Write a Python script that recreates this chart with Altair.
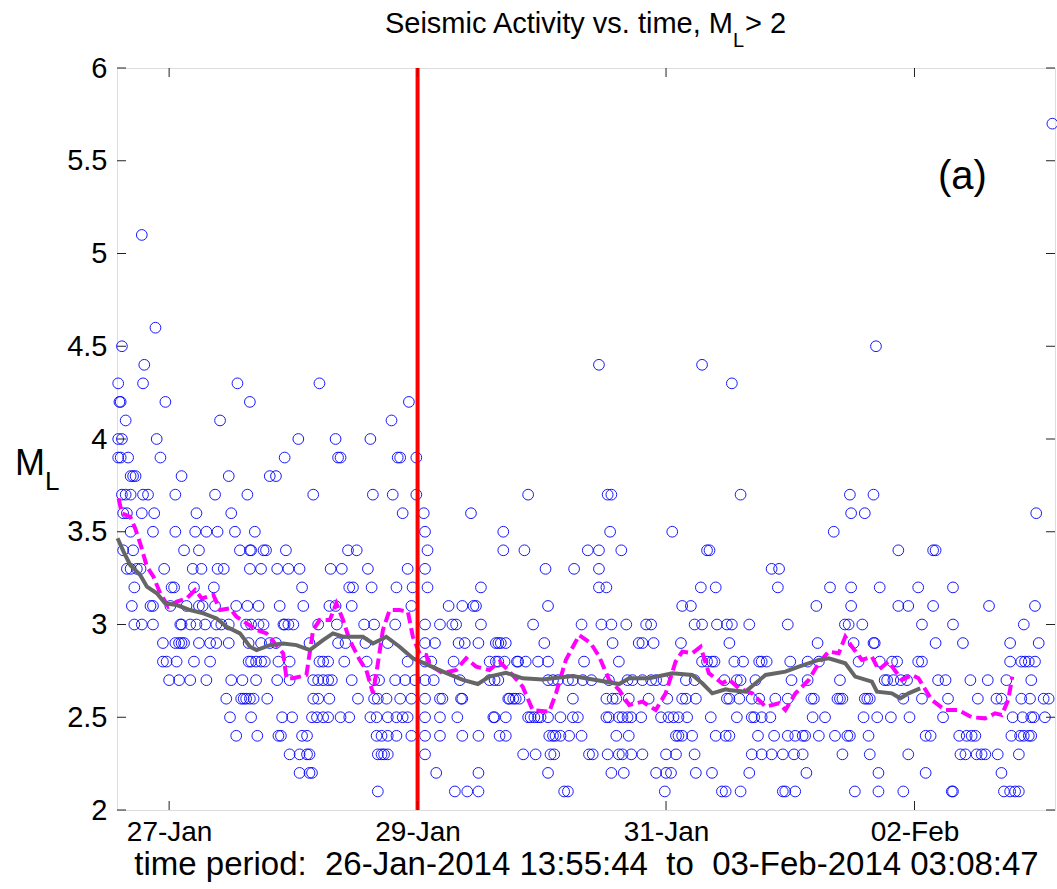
import altair as alt
import pandas as pd

FONT = "Liberation Sans"

# ---- axes (x in days since 27-Jan-2014 00:00) ----
X_START = -0.4196   # 26-Jan-2014 13:55:44
X_END = 7.1311      # 03-Feb-2014 03:08:47
x_tick_days = [0, 2, 4, 6]
x_tick_labels = ["27-Jan", "29-Jan", "31-Jan", "02-Feb"]
y_ticks = [2, 2.5, 3, 3.5, 4, 4.5, 5, 5.5, 6]
x_title = "time period:\u00a0 26-Jan-2014 13:55:44\u00a0 to\u00a0 03-Feb-2014 03:08:47"

# ---- events: times (days) for each magnitude M_L ----
m21 = [1.68, 2.30, 2.40, 2.49, 3.18, 3.21, 3.99, 4.45, 4.48, 4.60, 4.94, 4.96, 5.04, 5.52, 5.71,
       5.91, 6.30, 6.31, 6.72, 6.77, 6.81, 6.84]
m22 = [1.05, 1.13, 1.15, 2.15, 2.49, 3.05, 3.56, 3.66, 3.92, 4.00, 4.04, 4.24, 4.37, 4.67, 5.13,
       5.71, 6.09, 6.70]
m23 = [0.97, 1.05, 1.11, 1.13, 1.68, 1.71, 1.73, 1.76, 2.06, 2.85, 2.95, 3.07, 3.10, 3.38, 3.41,
       3.53, 3.62, 3.65, 3.72, 3.81, 4.00, 4.08, 4.23, 4.69, 4.77, 4.85, 4.94, 5.03, 5.10, 5.42,
       5.64, 5.95, 6.37, 6.41, 6.50, 6.54, 6.57, 6.67, 6.84]
m24 = [0.54, 0.71, 0.88, 0.90, 1.07, 1.11, 1.67, 1.71, 1.76, 1.83, 1.95, 2.06, 2.18, 2.36, 2.49,
       2.66, 2.71, 3.06, 3.09, 3.11, 3.15, 3.22, 3.32, 3.60, 3.70, 4.08, 4.10, 4.13, 4.21, 4.40,
       4.48, 4.51, 4.74, 4.87, 4.98, 5.04, 5.10, 5.12, 5.23, 5.36, 5.46, 5.48, 5.63, 6.09, 6.13,
       6.36, 6.42, 6.46, 6.49, 6.78, 6.85, 6.88, 6.92, 6.94]
m25 = [0.49, 0.66, 0.91, 0.99, 1.15, 1.19, 1.24, 1.28, 1.38, 1.45, 1.62, 1.67, 1.76, 1.83, 1.88,
       1.92, 2.06, 2.18, 2.32, 2.61, 2.62, 2.71, 2.89, 2.91, 2.94, 2.97, 2.99, 3.05, 3.15, 3.25,
       3.29, 3.52, 3.54, 3.62, 3.65, 3.69, 3.72, 3.80, 3.96, 4.02, 4.06, 4.10, 4.17, 4.36, 4.57,
       4.69, 4.71, 4.77, 4.84, 5.18, 5.28, 5.59, 5.70, 5.81, 5.96, 6.23, 6.79, 6.87, 6.94, 6.96,
       7.05]
m26 = [0.46, 0.58, 0.60, 0.62, 0.65, 0.68, 0.79, 1.16, 1.20, 1.29, 1.52, 1.65, 1.68, 1.75, 1.86,
       1.95, 2.06, 2.18, 2.20, 2.35, 2.36, 2.73, 2.74, 2.77, 2.79, 2.82, 3.25, 3.52, 3.57, 3.60,
       3.70, 3.86, 4.01, 4.13, 4.16, 4.24, 4.49, 4.51, 4.59, 4.69, 4.75, 4.88, 4.98, 5.17, 5.19,
       5.38, 5.40, 5.42, 5.60, 5.62, 5.64, 5.91, 6.06, 6.27, 6.51, 6.66, 6.70, 6.86, 6.93, 7.04,
       7.08]
m27 = [0.00, 0.08, 0.17, 0.30, 0.50, 0.59, 0.70, 0.87, 0.97, 1.16, 1.20, 1.24, 1.28, 1.31, 1.47,
       1.65, 1.69, 1.82, 1.90, 1.98, 2.06, 2.13, 2.34, 2.58, 2.62, 2.65, 3.05, 3.09, 3.13, 3.21,
       3.25, 3.33, 3.40, 3.54, 3.69, 3.73, 3.81, 3.88, 3.92, 3.98, 4.16, 4.23, 4.47, 4.57, 4.60,
       4.72, 5.01, 5.14, 5.40, 5.76, 5.78, 5.83, 5.89, 5.94, 6.19, 6.25, 6.45, 6.59, 6.74, 6.94]
m28 = [-0.05, -0.02, 0.06, 0.20, 0.33, 0.64, 0.66, 0.70, 0.74, 0.77, 0.88, 0.97, 1.21, 1.24, 1.28,
       1.41, 1.59, 1.92, 2.06, 2.11, 2.29, 2.58, 2.63, 2.65, 2.70, 2.80, 2.81, 2.87, 2.97, 3.05,
       3.34, 3.62, 4.29, 4.33, 4.37, 4.39, 4.55, 4.62, 4.75, 4.77, 4.81, 5.00, 5.14, 5.23, 5.55,
       5.72, 5.82, 5.86, 6.03, 6.06, 6.77, 6.86, 6.89, 6.92, 6.97]
m29 = [-0.05, 0.05, 0.08, 0.10, 0.12, 0.24, 0.33, 0.38, 0.48, 0.64, 0.74, 0.81, 0.86, 1.13, 1.36,
       1.42, 1.58, 1.76, 2.06, 2.14, 2.33, 2.38, 2.49, 2.63, 2.65, 2.67, 2.71, 3.02, 3.57, 3.78,
       3.81, 3.90, 4.12, 4.51, 5.22, 5.51, 5.67, 5.68, 6.17, 6.39, 6.77, 7.00]
m30 = [-0.28, -0.22, -0.13, 0.09, 0.10, 0.17, 0.22, 0.29, 0.38, 0.42, 0.48, 0.62, 0.66, 0.72, 0.76,
       0.92, 0.93, 0.96, 1.00, 1.20, 1.35, 1.57, 1.65, 1.82, 2.06, 2.18, 2.28, 2.31, 2.51, 2.93,
       3.32, 3.48, 3.56, 3.68, 3.84, 3.88, 4.23, 4.29, 4.41, 4.49, 4.53, 4.67, 4.98, 5.44, 5.47,
       5.58, 6.06, 6.31, 6.88]
m31 = [-0.30, -0.15, -0.13, 0.01, 0.14, 0.24, 0.27, 0.37, 0.54, 0.63, 0.72, 0.89, 1.08, 1.29, 1.34,
       1.47, 1.95, 2.25, 2.36, 2.45, 2.47, 3.05, 4.13, 4.20, 5.21, 5.49, 5.87, 5.95, 6.15, 6.60,
       6.97]
m32 = [-0.28, 0.02, 0.04, 0.20, 0.36, 1.07, 1.45, 1.48, 1.63, 1.83, 1.96, 2.08, 2.51, 3.46, 3.52,
       4.28, 4.40, 4.90, 5.32, 5.49, 5.72, 6.03, 6.31]
m33 = [-0.34, -0.31, -0.26, -0.23, -0.04, 0.19, 0.26, 0.39, 0.44, 0.65, 0.74, 0.87, 0.96, 1.05,
       1.30, 1.39, 1.60, 1.92, 2.06, 3.03, 3.26, 3.46, 4.85, 4.91]
m34 = [-0.37, -0.29, 0.12, 0.24, 0.57, 0.65, 0.66, 0.76, 0.78, 0.94, 1.44, 1.51, 2.08, 2.69, 2.86,
       3.37, 3.46, 3.64, 4.33, 4.35, 5.87, 6.15, 6.17]
m35 = [-0.31, -0.13, 0.05, 0.21, 0.30, 0.39, 0.53, 0.69, 2.06, 2.69, 3.55, 4.05, 5.35]
m36 = [-0.37, -0.34, -0.22, -0.12, 0.22, 0.50, 1.88, 2.05, 2.43, 5.49, 5.60, 6.98]
m37 = [-0.38, -0.35, -0.31, -0.21, -0.17, 0.05, 0.37, 0.63, 1.16, 1.64, 1.80, 1.99, 2.89, 3.53,
       3.56, 4.60, 5.48, 5.67]
m38 = [-0.31, -0.29, -0.27, 0.10, 0.48, 0.81, 0.86]
m39 = [-0.41, -0.39, -0.33, -0.07, 0.93, 1.36, 1.38, 1.84, 1.86, 1.99]
m40 = [-0.41, -0.38, -0.10, 1.04, 1.34, 1.62]
m41 = [-0.35, 0.41, 1.79]
m42 = [-0.40, -0.39, -0.03, 0.65, 1.93]
m43 = [-0.41, -0.21, 0.55, 1.21, 4.53]
m44 = [-0.20, 3.46, 4.29]
m45 = [-0.38, 5.69]
m46 = [-0.11]
m51 = [-0.22]
m57 = [7.11]

rows = [(2.1, m21), (2.2, m22), (2.3, m23), (2.4, m24), (2.5, m25), (2.6, m26), (2.7, m27),
        (2.8, m28), (2.9, m29), (3.0, m30), (3.1, m31), (3.2, m32), (3.3, m33), (3.4, m34),
        (3.5, m35), (3.6, m36), (3.7, m37), (3.8, m38), (3.9, m39), (4.0, m40), (4.1, m41),
        (4.2, m42), (4.3, m43), (4.4, m44), (4.5, m45), (4.6, m46), (5.1, m51), (5.7, m57)]

# ---- smoothed curves ----
gray_days = [-0.415, -0.367, -0.313, -0.233, -0.179, -0.099, -0.032, 0.062, 0.169, 0.276, 0.383,
             0.463, 0.570, 0.651, 0.704, 0.811, 0.918, 1.025, 1.132, 1.239, 1.319, 1.400, 1.560,
             1.641, 1.748, 1.855, 1.962, 2.096, 2.204, 2.364, 2.485, 2.578, 2.712, 2.846, 3.007,
             3.248, 3.435, 3.623, 3.703, 3.864, 4.051, 4.211, 4.292, 4.372, 4.479, 4.506, 4.640,
             4.801, 4.961, 5.069, 5.229, 5.309, 5.443, 5.523, 5.657, 5.698, 5.818, 5.885, 5.952,
             6.046]
gray_mag = [3.465, 3.393, 3.321, 3.267, 3.204, 3.168, 3.114, 3.105, 3.078, 3.060, 3.033,
            2.988, 2.952, 2.880, 2.862, 2.889, 2.898, 2.889, 2.862, 2.916, 2.952, 2.934, 2.934,
            2.898, 2.934, 2.880, 2.818, 2.778, 2.746, 2.701, 2.679, 2.719, 2.740, 2.710, 2.704,
            2.722, 2.701, 2.679, 2.710, 2.710, 2.737, 2.728, 2.683, 2.629, 2.651, 2.647, 2.638,
            2.728, 2.746, 2.773, 2.809, 2.818, 2.791, 2.719, 2.692, 2.638, 2.629, 2.602, 2.629,
            2.656]

magenta_days = [-0.407, -0.380, -0.313, -0.273, -0.233, -0.179, -0.126, -0.072, -0.006, 0.062,
                0.142, 0.209, 0.262, 0.356, 0.410, 0.490, 0.543, 0.624, 0.704, 0.784, 0.851,
                0.918, 0.945, 0.998, 1.105, 1.159, 1.212, 1.293, 1.346, 1.400, 1.453, 1.534,
                1.587, 1.641, 1.668, 1.721, 1.775, 1.855, 1.922, 1.962, 2.016, 2.069, 2.097,
                2.204, 2.311, 2.391, 2.471, 2.578, 2.659, 2.739, 2.846, 2.926, 3.060, 3.114,
                3.194, 3.301, 3.395, 3.462, 3.542, 3.623, 3.703, 3.810, 3.917, 3.997, 4.077,
                4.131, 4.211, 4.278, 4.345, 4.452, 4.506, 4.586, 4.693, 4.801, 4.908, 4.961,
                5.042, 5.149, 5.229, 5.309, 5.390, 5.443, 5.497, 5.577, 5.657, 5.711, 5.791,
                5.898, 5.979, 6.032, 6.139, 6.246, 6.353, 6.461, 6.568, 6.648, 6.702, 6.755,
                6.787]
magenta_mag = [3.680, 3.599, 3.581, 3.518, 3.438, 3.312, 3.258, 3.168, 3.096, 3.123,
               3.141, 3.186, 3.141, 3.159, 3.078, 3.087, 3.042, 3.006, 2.970, 2.952, 2.898,
               2.844, 2.710, 2.710, 2.728, 2.970, 3.024, 3.024, 3.114, 3.024, 2.916, 2.809,
               2.755, 2.629, 2.737, 2.970, 3.078, 3.078, 3.069, 2.934, 2.844, 2.836, 2.782,
               2.737, 2.755, 2.818, 2.773, 2.755, 2.800, 2.746, 2.665, 2.539, 2.530, 2.629,
               2.809, 2.943, 2.898, 2.827, 2.701, 2.647, 2.566, 2.584, 2.539, 2.629, 2.800,
               2.854, 2.845, 2.880, 2.737, 2.683, 2.704, 2.656, 2.629, 2.557, 2.575, 2.539,
               2.629, 2.701, 2.791, 2.854, 2.845, 2.934, 2.880, 2.809, 2.827, 2.755, 2.800,
               2.701, 2.728, 2.710, 2.593, 2.539, 2.539, 2.500, 2.494, 2.521, 2.512, 2.593,
               2.719]

red_marker_day = [2.0]   # 29-Jan-2014 00:00

# ---- tables ----
events = pd.DataFrame([{"day": d, "mag": m} for m, lst in rows for d in lst])
gray_df = pd.DataFrame({"day": gray_days, "mag": gray_mag})
magenta_df = pd.DataFrame({"day": magenta_days, "mag": magenta_mag})
red_df = pd.DataFrame({"day": red_marker_day})
xt_df = pd.DataFrame({"day": x_tick_days})
yt_df = pd.DataFrame({"mag": y_ticks})

W, H = 938, 742
x_scale = alt.Scale(domain=[X_START, X_END], nice=False, zero=False)
y_scale = alt.Scale(domain=[2, 6], nice=False, zero=False)

label_expr = " : ".join(
    f"datum.value == {v} ? '{l}'" for v, l in zip(x_tick_days, x_tick_labels)
) + " : ''"

x_axis = alt.Axis(values=x_tick_days, labelExpr=label_expr, title=x_title,
                  labelFontSize=28, labelPadding=8, labelFont=FONT, labelColor="black",
                  titleFont=FONT, titleFontSize=33, titleFontWeight="normal", titleColor="black",
                  titleY=64, titleBaseline="alphabetic",
                  ticks=False, domain=False, grid=False)
y_axis = alt.Axis(values=y_ticks, format=".1~f", title=" ",
                  labelFontSize=29, labelPadding=10, labelFont=FONT, labelColor="black",
                  ticks=False, domain=False, grid=False)

X = alt.X("day:Q", scale=x_scale, axis=x_axis)
Y = alt.Y("mag:Q", scale=y_scale, axis=y_axis)

points = alt.Chart(events).mark_point(
    shape="circle", filled=False, size=115, color="#0000ff", strokeWidth=1, opacity=0.9
).encode(x=X, y=Y)

magenta = alt.Chart(magenta_df).mark_line(
    color="#ff00ff", strokeWidth=4, strokeDash=[11, 5]
).encode(x=X, y=Y)

gray = alt.Chart(gray_df).mark_line(color="#666666", strokeWidth=4).encode(x=X, y=Y)

red = alt.Chart(red_df).mark_rule(color="#ff0000", strokeWidth=4).encode(x=X)

tick_color = "#222222"
left_ticks = alt.Chart(yt_df).mark_rule(color=tick_color, strokeWidth=1).encode(
    y=Y, x=alt.value(0), x2=alt.value(9))
right_ticks = alt.Chart(yt_df).mark_rule(color=tick_color, strokeWidth=1).encode(
    y=Y, x=alt.value(W - 9), x2=alt.value(W))
bottom_ticks = alt.Chart(xt_df).mark_rule(color=tick_color, strokeWidth=1).encode(
    x=X, y=alt.value(H - 9), y2=alt.value(H))
top_ticks = alt.Chart(xt_df).mark_rule(color=tick_color, strokeWidth=1).encode(
    x=X, y=alt.value(0), y2=alt.value(9))


def label(text, x, y, size, align="left"):
    return alt.Chart(pd.DataFrame({"t": [text]})).mark_text(
        font=FONT, fontSize=size, align=align, baseline="alphabetic", color="black"
    ).encode(text="t:N", x=alt.value(x), y=alt.value(y))


title_main = label("Seismic Activity vs. time, M", 616, -35, 29, align="right")
title_sub = label("L", 616, -21, 20)
title_end = label("> 2", 628, -35, 29)
ylab_main = label("M", -102, 407, 36)
ylab_sub = label("L", -72, 422, 26)
panel_tag = label("(a)", 821, 121, 40)

chart = alt.layer(
    points, magenta, gray, red,
    left_ticks, right_ticks, bottom_ticks, top_ticks,
    title_main, title_sub, title_end, ylab_main, ylab_sub, panel_tag,
).properties(
    width=W, height=H,
    autosize="none",
    padding={"left": 117, "top": 68, "right": 2, "bottom": 79},
).configure_view(stroke="black", strokeWidth=1).configure(background="white")

chart.save("out.html", embed_options={"renderer": "svg", "actions": False})
